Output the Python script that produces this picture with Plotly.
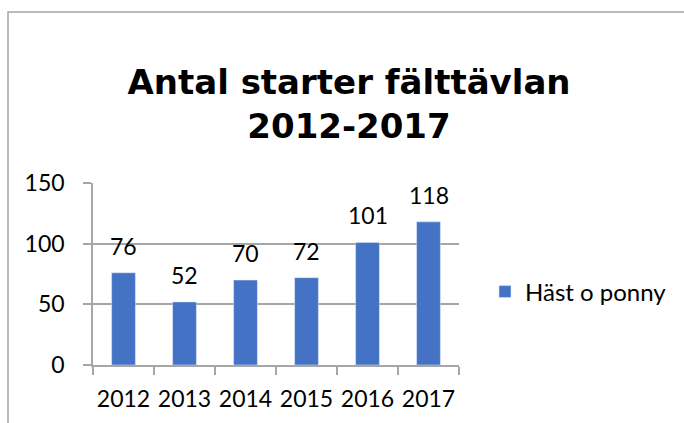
import plotly.graph_objects as go

years = ["2012", "2013", "2014", "2015", "2016", "2017"]
values = [76, 52, 70, 72, 101, 118]
series_name = "Häst o ponny"
title_text = "Antal starter fälttävlan<br>2012-2017"
y_ticks = [0, 50, 100, 150]

BAR = "#4472C4"
GRAY = "#A6A6A6"
FONT = "Lato"

fig = go.Figure()
fig.add_trace(go.Bar(x=years, y=values, name=series_name, marker=dict(color=BAR),
                     showlegend=True))

for i, v in enumerate(values):
    fig.add_annotation(x=i, y=v, text=str(v), showarrow=False, yanchor="middle",
                       yshift=27, font=dict(family=FONT, size=23, color="#000"))

# outer chart border (left and top edges visible)
L, R, T, B = 93, 459, 183, 365
W, H = R - L, B - T
def px(x):
    return (x - L) / W
def py(y):
    return (B - y) / H
fig.add_shape(type="path", xref="paper", yref="paper",
              path=f"M {px(8)},{py(440)} L {px(8)},{py(12)} L {px(700)},{py(12)}",
              line=dict(color=GRAY, width=1.5))

fig.update_layout(
    width=684, height=423,
    margin=dict(l=L, r=684 - R, t=T, b=423 - B, autoexpand=False),
    paper_bgcolor="white", plot_bgcolor="white",
    bargap=0.61,
    font=dict(family=FONT, size=23, color="#000"),
    title=dict(text=title_text, x=349 / 684, xanchor="center", xref="container",
               y=1 - 94 / 423, yanchor="top", yref="container", automargin=False,
               font=dict(family="DejaVu Sans", size=34, color="#000", weight="bold")),
    legend=dict(x=px(485), xanchor="left", y=py(292), yanchor="middle",
                font=dict(family=FONT, size=24, color="#000"),
                bgcolor="rgba(0,0,0,0)"),
    xaxis=dict(type="category", range=[-0.5, len(years) - 0.5], showline=True,
               linecolor=GRAY, linewidth=1.5, automargin=False,
               ticks="outside", tickson="boundaries", ticklen=8, tickcolor=GRAY,
               tickwidth=1.5, showgrid=False, ticklabelstandoff=13, tickangle=0,
               tickfont=dict(family=FONT, size=23, color="#000")),
    yaxis=dict(range=[0, 150], tickvals=y_ticks, showline=True, linecolor=GRAY,
               linewidth=1.5, ticks="outside", ticklen=8, tickcolor=GRAY, tickwidth=1.5,
               showgrid=True, gridcolor=GRAY, gridwidth=1.5, zeroline=False,
               ticklabelstandoff=14, automargin=False,
               tickfont=dict(family=FONT, size=23, color="#000")),
)

fig.write_html("out.html", config={"displayModeBar": False},
               post_script="document.body.style.margin='0';document.body.style.overflow='hidden';")
